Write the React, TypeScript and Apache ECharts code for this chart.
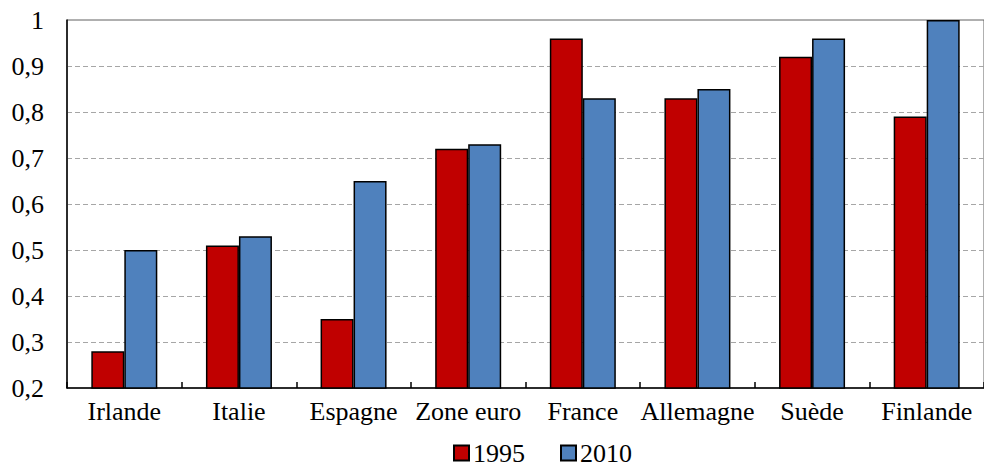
import React, { useEffect, useRef } from "react";
import * as echarts from "echarts";

const categories = ["Irlande", "Italie", "Espagne", "Zone euro", "France", "Allemagne", "Suède", "Finlande"];
const values1995 = [0.28, 0.51, 0.35, 0.72, 0.96, 0.83, 0.92, 0.79];
const values2010 = [0.5, 0.53, 0.65, 0.73, 0.83, 0.85, 0.96, 1.0];
const seriesNames = ["1995", "2010"];
const yMin = 0.2;
const yMax = 1;
const yInterval = 0.1;

const FONT = "Liberation Serif";

export default function App() {
  const ref = useRef<HTMLDivElement>(null);
  useEffect(() => {
    if (!ref.current) return;
    const chart = echarts.init(ref.current, undefined, { renderer: "svg" });
    chart.setOption({
      animation: false,
      backgroundColor: "#ffffff",
      textStyle: { fontFamily: FONT },
      grid: {
        left: 67,
        top: 20,
        width: 923,
        height: 368,
        show: true,
        borderColor: "#606060",
        borderWidth: 1,
        backgroundColor: "transparent",
      },
      legend: {
        left: 453,
        top: 440,
        padding: 0,
        itemWidth: 15,
        itemHeight: 15,
        itemGap: 35,
        icon: "rect",
        textStyle: { fontFamily: FONT, fontSize: 26, lineHeight: 26, color: "#000", padding: [0, 0, 0, -1] },
        data: seriesNames,
      },
      xAxis: {
        type: "category",
        data: categories,
        axisLine: { show: true, lineStyle: { color: "#000", width: 1.5 } },
        axisTick: { show: true, inside: true, length: 6, lineStyle: { color: "#000", width: 1.5 } },
        axisLabel: { fontFamily: FONT, fontSize: 26, color: "#000", margin: 10, interval: 0 },
        splitLine: { show: false },
      },
      yAxis: {
        type: "value",
        min: yMin,
        max: yMax,
        interval: yInterval,
        axisLine: { show: true, lineStyle: { color: "#000", width: 1.5 } },
        axisTick: { show: false },
        axisLabel: {
          fontFamily: FONT,
          fontSize: 26,
          color: "#000",
          margin: 23,
          formatter: (v: number) => String(Math.round(v * 10) / 10).replace(".", ","),
        },
        splitLine: {
          show: true,
          showMinLine: false,
          showMaxLine: false,
          lineStyle: { color: "#a6a6a6", type: [5, 3], width: 1 },
        },
      },
      series: [
        {
          name: seriesNames[0],
          type: "bar",
          data: values1995,
          barWidth: 33,
          barGap: "0%",
          itemStyle: { color: "#C00000", borderColor: "#000", borderWidth: 1.5 },
        },
        {
          name: seriesNames[1],
          type: "bar",
          data: values2010,
          barWidth: 33,
          barGap: "0%",
          itemStyle: { color: "#4F81BD", borderColor: "#000", borderWidth: 1.5 },
        },
      ],
    });
    return () => chart.dispose();
  }, []);
  return (
    <div
      ref={ref}
      style={{ position: "absolute", left: 0, top: 0, width: 984, height: 466 }}
    />
  );
}
